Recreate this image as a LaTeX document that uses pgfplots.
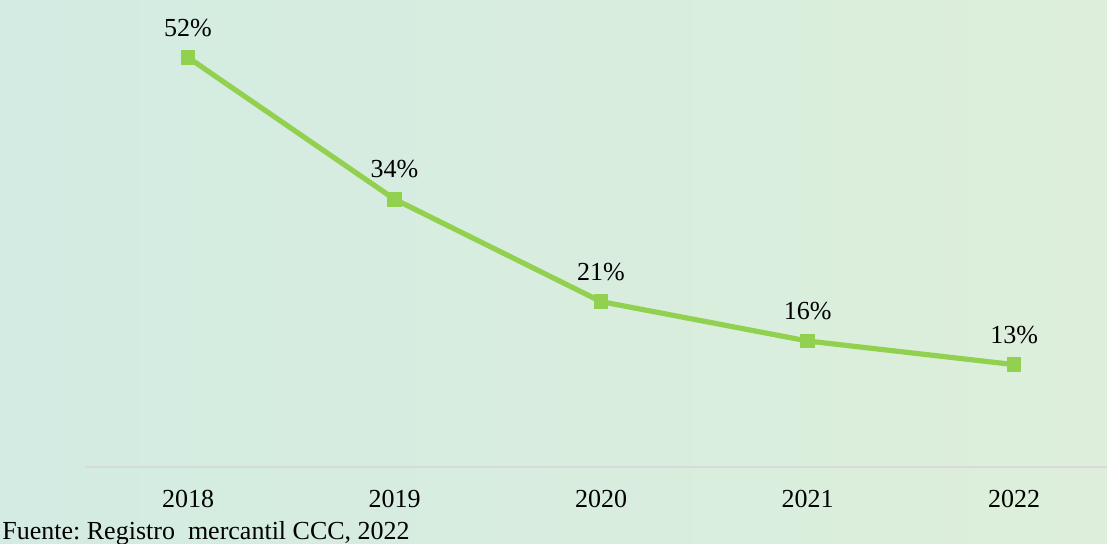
\documentclass[border=0pt]{standalone}
\usepackage{pgfplots}
\pgfplotsset{compat=1.18}
\usepackage{fontspec}
\setmainfont{Liberation Serif}

\definecolor{bgleft}{RGB}{211,235,227}
\definecolor{bgright}{RGB}{221,239,218}
\definecolor{linegreen}{RGB}{146,208,80}
\definecolor{basegray}{RGB}{217,217,217}

% 1 px of the reference = 0.5pt
\begin{document}
\begin{tikzpicture}
\useasboundingbox (0,0) rectangle (553.5pt,272pt);
\shade[left color=bgleft, right color=bgright] (0,0) rectangle (553.5pt,272pt);
\begin{axis}[
  at={(42.4pt,38.5pt)}, anchor=south west,
  scale only axis,
  width=511.1pt, height=233.5pt,
  xmin=2017.5, xmax=2022.45,
  ymin=0, ymax=59.3,
  axis x line*=bottom,
  axis y line=none,
  x axis line style={-, draw=basegray, line width=0.8pt},
  xtick=data,
  xticklabels={2018,2019,2020,2021,2022},
  major tick length=0pt,
  /pgf/number format/assume math mode=true,
  xticklabel style={anchor=base, yshift=-20.5pt, font=\fontsize{13}{15}\selectfont},
  clip=false,
  nodes near coords={\pgfmathprintnumber{\pgfplotspointmeta}\%},
  nodes near coords style={anchor=south, inner sep=0pt, yshift=10.5pt, font=\fontsize{13}{15}\selectfont, text=black},
]
\addplot[linegreen, line width=2.6pt, mark=square*, mark size=3.4pt,
  mark options={fill=linegreen, draw=linegreen, line width=0pt}]
  coordinates {
    (2018, 52) (2019, 34) (2020, 21) (2021, 16) (2022, 13)
  };
\end{axis}
\node[anchor=base west, inner sep=0pt, font=\fontsize{13}{15}\selectfont]
  at (1pt,2pt) {\frenchspacing Fuente: Registro\ \ mercantil CCC, 2022};
\end{tikzpicture}
\end{document}
